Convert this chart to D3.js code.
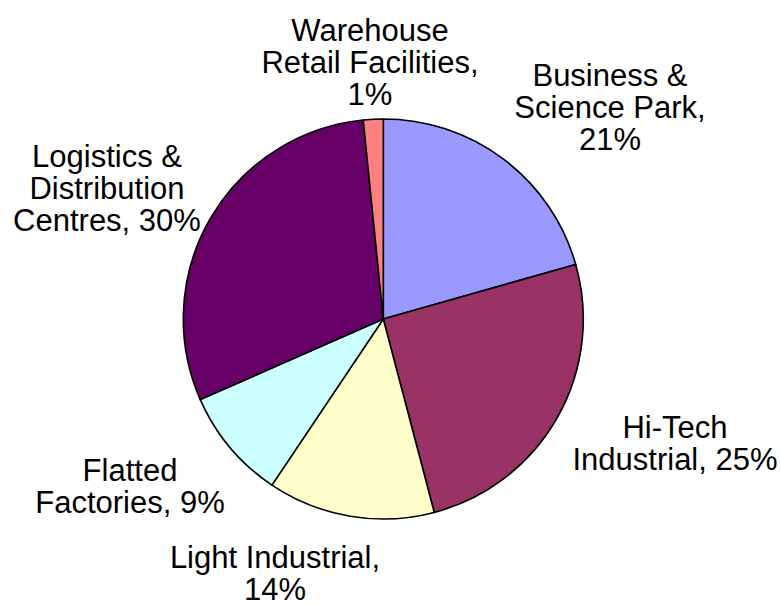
<!DOCTYPE html>
<html>
<head>
<script src="https://d3js.org/d3.v7.min.js"></script>
<style>
  body { margin: 0; background: #fff; }
  .lbl { font-family: "Liberation Sans", Arial, sans-serif; font-size: 31px; fill: #000; }
</style>
</head>
<body>
<svg width="781" height="606"></svg>
<script>
// share of industrial space by type (clockwise from 12 o'clock)
var categories = ["Business & Science Park", "Hi-Tech Industrial", "Light Industrial",
                  "Flatted Factories", "Logistics & Distribution Centres", "Warehouse Retail Facilities"];
var values = [20.6, 25.3, 13.5, 9.0, 30.0, 1.6];
var labelLines = [
  ["Business &", "Science Park,", "21%"],
  ["Hi-Tech", "Industrial, 25%"],
  ["Light Industrial,", "14%"],
  ["Flatted", "Factories, 9%"],
  ["Logistics &", "Distribution", "Centres, 30%"],
  ["Warehouse", "Retail Facilities,", "1%"]
];
var colors = ["#9999ff", "#993366", "#ffffcc", "#ccffff", "#660066", "#ff8080"];

var svg = d3.select("svg");
var cx = 383.3, cy = 319, r = 200;

var pie = d3.pie().sort(null).value(function(d) { return d; });
var arc = d3.arc().innerRadius(0).outerRadius(r);

var g = svg.append("g").attr("transform", "translate(" + cx + "," + cy + ")");

g.selectAll("path")
  .data(pie(values))
  .enter().append("path")
  .attr("d", arc)
  .style("fill", function(d, i) { return colors[i]; })
  .style("stroke", "#000")
  .style("stroke-width", 1.6)
  .style("stroke-linejoin", "round");

// label anchor (center x, first baseline)
var labelPos = [[610, 86], [675, 438], [275, 568], [130, 481], [107, 167], [370, 41]];
var lineH = 32;

labelLines.forEach(function(lines, i) {
  var t = svg.append("text")
    .attr("class", "lbl")
    .attr("text-anchor", "middle")
    .attr("x", labelPos[i][0])
    .attr("y", labelPos[i][1]);
  lines.forEach(function(s, j) {
    t.append("tspan")
      .attr("x", labelPos[i][0])
      .attr("dy", j === 0 ? 0 : lineH)
      .text(s);
  });
});
</script>
</body>
</html>
